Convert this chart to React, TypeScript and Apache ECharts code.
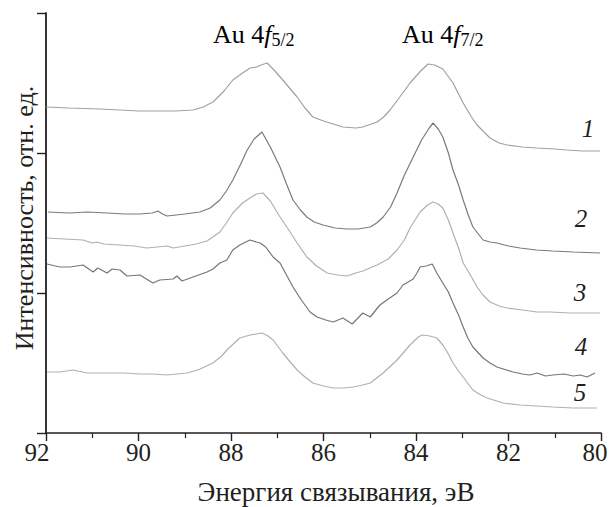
import React, { useEffect, useRef } from "react";
import * as echarts from "echarts";

// Binding energy (eV) and intensity (arb. units) for each spectrum
const curve1: [number, number][] = [
  [92.0, 326], [91.5, 325], [90.83, 324], [90.4, 323], [90.0, 322], [89.6, 322], [89.2, 322],
  [88.82, 323], [88.6, 326], [88.39, 331], [88.15, 342], [87.96, 353], [87.75, 360], [87.59, 365],
  [87.45, 366], [87.35, 368], [87.22, 370], [87.05, 362], [86.88, 353], [86.57, 336], [86.4, 325],
  [86.23, 316], [86.0, 312], [85.86, 310], [85.58, 306], [85.3, 305], [85.15, 306], [84.84, 311],
  [84.7, 316], [84.56, 323], [84.35, 336], [84.13, 350], [83.9, 362], [83.74, 369], [83.6, 368],
  [83.42, 364], [83.2, 350], [82.98, 330], [82.8, 316], [82.68, 308], [82.4, 295], [82.2, 290],
  [82.03, 288], [81.7, 286], [81.38, 285], [81.0, 284], [80.74, 283], [80.4, 282], [80.02, 282],
];

const curve2: [number, number][] = [
  [91.96, 221], [91.5, 220], [91.1, 221], [90.68, 220], [90.3, 219], [89.97, 219], [89.7, 220],
  [89.58, 222], [89.48, 219], [89.38, 217], [89.0, 219], [88.67, 221], [88.45, 225], [88.24, 233],
  [88.1, 242], [87.96, 253], [87.8, 268], [87.65, 283], [87.5, 294], [87.33, 301], [87.15, 286],
  [86.94, 266], [86.8, 249], [86.66, 233], [86.5, 223], [86.36, 216], [86.2, 211], [86.01, 208],
  [85.75, 205], [85.49, 204], [85.25, 204], [84.99, 206], [84.85, 210], [84.71, 216], [84.55, 226],
  [84.41, 240], [84.25, 258], [84.06, 276], [83.88, 293], [83.7, 306], [83.63, 310], [83.52, 304],
  [83.42, 296], [83.3, 280], [83.2, 263], [83.08, 248], [82.98, 233], [82.87, 218], [82.77, 206],
  [82.55, 193], [82.4, 191], [82.25, 190], [82.0, 187], [81.75, 185], [81.4, 183], [81.04, 182],
  [80.6, 181], [80.02, 180],
];

const curve3: [number, number][] = [
  [91.98, 195], [91.6, 194], [91.2, 193], [91.0, 190], [90.9, 191], [90.75, 189], [90.4, 188],
  [90.1, 187], [89.82, 185], [89.6, 186], [89.38, 187], [89.25, 185], [89.0, 187], [88.75, 189],
  [88.52, 192], [88.24, 201], [88.1, 210], [87.96, 220], [87.75, 230], [87.59, 235], [87.45, 239],
  [87.31, 240], [87.15, 232], [86.94, 216], [86.75, 203], [86.57, 190], [86.36, 176], [86.15, 167],
  [85.92, 160], [85.7, 158], [85.49, 157], [85.3, 160], [85.15, 162], [84.95, 166], [84.84, 168],
  [84.6, 174], [84.41, 183], [84.25, 193], [84.13, 205], [83.91, 221], [83.75, 228], [83.63, 231],
  [83.52, 229], [83.42, 225], [83.3, 213], [83.2, 200], [83.08, 185], [82.98, 170], [82.8, 156],
  [82.68, 146], [82.55, 138], [82.4, 131], [82.2, 127], [82.03, 125], [81.7, 123], [81.38, 121],
  [81.1, 121], [80.67, 120], [80.3, 120], [80.02, 120],
];

const curve4: [number, number][] = [
  [91.98, 169], [91.7, 166], [91.48, 166], [91.2, 168], [90.98, 161], [90.88, 165], [90.68, 160],
  [90.57, 164], [90.4, 163], [90.25, 157], [89.97, 158], [89.69, 150], [89.54, 153], [89.25, 154],
  [89.17, 157], [89.06, 152], [88.82, 156], [88.52, 161], [88.39, 164], [88.24, 170], [88.09, 173],
  [87.96, 183], [87.81, 188], [87.59, 193], [87.45, 191], [87.37, 190], [87.25, 186], [87.09, 176],
  [86.94, 170], [86.8, 158], [86.66, 146], [86.48, 133], [86.29, 121], [86.14, 116], [85.95, 113],
  [85.79, 111], [85.58, 115], [85.38, 109], [85.15, 120], [84.99, 116], [84.78, 128], [84.6, 134],
  [84.41, 140], [84.28, 148], [84.06, 154], [83.98, 160], [83.91, 166], [83.78, 167], [83.65, 169],
  [83.55, 160], [83.42, 150], [83.3, 141], [83.2, 130], [83.08, 118], [82.98, 106], [82.88, 95],
  [82.77, 86], [82.55, 75], [82.4, 70], [82.25, 66], [81.9, 61], [81.7, 59], [81.54, 58],
  [81.38, 60], [81.2, 57], [81.04, 58], [80.8, 59], [80.6, 57], [80.45, 58], [80.3, 56],
  [80.13, 60],
];

const curve5: [number, number][] = [
  [91.98, 61], [91.7, 61], [91.42, 63], [91.11, 60], [90.68, 60], [90.3, 60], [89.97, 59],
  [89.7, 59], [89.38, 58], [88.95, 60], [88.8, 62], [88.67, 64], [88.39, 70], [88.2, 77],
  [88.09, 83], [87.95, 89], [87.81, 95], [87.59, 98], [87.45, 99], [87.33, 100], [87.2, 97],
  [87.09, 93], [86.88, 80], [86.72, 71], [86.57, 63], [86.4, 56], [86.23, 50], [86.0, 47],
  [85.79, 45], [85.55, 45], [85.36, 46], [85.15, 48], [84.99, 50], [84.85, 55], [84.71, 60],
  [84.41, 73], [84.13, 88], [83.95, 96], [83.87, 98], [83.7, 97], [83.55, 95], [83.42, 88],
  [83.3, 79], [83.2, 70], [83.08, 62], [82.98, 56], [82.77, 43], [82.6, 38], [82.46, 35],
  [82.12, 30], [81.75, 28], [81.4, 27], [81.04, 26], [80.6, 25], [80.09, 25],
];

const xTickValues = [92, 90, 88, 86, 84, 82, 80];
const curveNames = ["1", "2", "3", "4", "5"];
const peakNames = ["5/2", "7/2"];

const SERIF = "Liberation Serif, Times New Roman, serif";
const INK = "#231f20";

export default function App() {
  const ref = useRef<HTMLDivElement>(null);

  useEffect(() => {
    if (!ref.current) return;
    const chart = echarts.init(ref.current, undefined, { renderer: "svg" });

    const seriesData = [curve1, curve2, curve3, curve4, curve5];
    const seriesColors = ["#a0a0a0", "#7a7a7a", "#b0b0b0", "#767676", "#b0b0b0"];
    const labelPos: [number, number][] = [
      [588, 128], [581, 218], [580, 292], [581, 346], [580, 392],
    ];

    const richStyles = {
      a: { fontSize: 26, fontFamily: SERIF, color: INK, lineHeight: 30 },
      f: { fontSize: 26, fontFamily: SERIF, fontStyle: "italic", color: INK, lineHeight: 30 },
      s: { fontSize: 18, fontFamily: SERIF, color: INK, lineHeight: 14, verticalAlign: "bottom" },
    };

    chart.setOption({
      animation: false,
      backgroundColor: "#ffffff",
      grid: { left: 46, right: 10, top: 13, bottom: 74, outerBoundsMode: "none" },
      xAxis: {
        type: "value",
        min: 80,
        max: 92,
        interval: 2,
        inverse: true,
        axisLine: { show: true, onZero: false, lineStyle: { color: INK, width: 1.6 } },
        axisTick: { show: true, length: 8, lineStyle: { color: INK, width: 1.4 } },
        minorTick: { show: true, splitNumber: 2, length: 5, lineStyle: { color: INK, width: 1.2 } },
        splitLine: { show: false },
        axisLabel: {
          show: true,
          margin: 7,
          color: INK,
          fontSize: 25,
          fontFamily: SERIF,
          formatter: (v: number) => {
            if (!xTickValues.includes(v)) return "";
            if (v === 92) return `{l|${v}}`;
            if (v === 80) return `{r|${v}}`;
            return String(v);
          },
          rich: {
            l: { fontSize: 25, fontFamily: SERIF, color: INK, padding: [0, 18, 0, 0] },
            r: { fontSize: 25, fontFamily: SERIF, color: INK, padding: [0, 12, 0, 0] },
          },
        },
      },
      yAxis: {
        type: "value",
        min: 0,
        max: 420,
        interval: 140,
        axisLine: { show: true, onZero: false, lineStyle: { color: INK, width: 1.8 } },
        axisTick: { show: true, length: 9, lineStyle: { color: INK, width: 1.4 } },
        axisLabel: { show: false },
        splitLine: { show: false },
      },
      series: seriesData.map((d, i) => ({
        type: "line",
        name: curveNames[i],
        data: d,
        showSymbol: false,
        symbol: "none",
        smooth: false,
        lineStyle: { color: seriesColors[i], width: 1.2 },
        z: 2,
      })),
      graphic: [
        {
          type: "text",
          x: 336,
          y: 492,
          style: {
            text: "Энергия связывания, эВ",
            fontSize: 27,
            fontFamily: SERIF,
            fill: INK,
            align: "center",
            verticalAlign: "middle",
          },
        },
        {
          type: "text",
          x: 24,
          y: 218,
          rotation: Math.PI / 2,
          style: {
            text: "Интенсивность, отн. ед.",
            fontSize: 26,
            fontFamily: SERIF,
            fill: INK,
            align: "center",
            verticalAlign: "middle",
          },
        },
        {
          type: "text",
          x: 213,
          y: 19,
          style: {
            text: `{a|Au 4}{f|f}{s|${peakNames[0]}}`,
            rich: richStyles,
            align: "left",
            verticalAlign: "top",
          },
        },
        {
          type: "text",
          x: 402,
          y: 19,
          style: {
            text: `{a|Au 4}{f|f}{s|${peakNames[1]}}`,
            rich: richStyles,
            align: "left",
            verticalAlign: "top",
          },
        },
        ...curveNames.map((n, i) => ({
          type: "text",
          x: labelPos[i][0],
          y: labelPos[i][1],
          style: {
            text: n,
            fontSize: 25,
            fontStyle: "italic",
            fontFamily: SERIF,
            fill: INK,
            align: "center",
            verticalAlign: "middle",
          },
        })),
      ],
    });

    return () => chart.dispose();
  }, []);

  return (
    <div
      ref={ref}
      style={{ position: "fixed", left: 0, top: 0, width: 611, height: 507, background: "#fff" }}
    />
  );
}
